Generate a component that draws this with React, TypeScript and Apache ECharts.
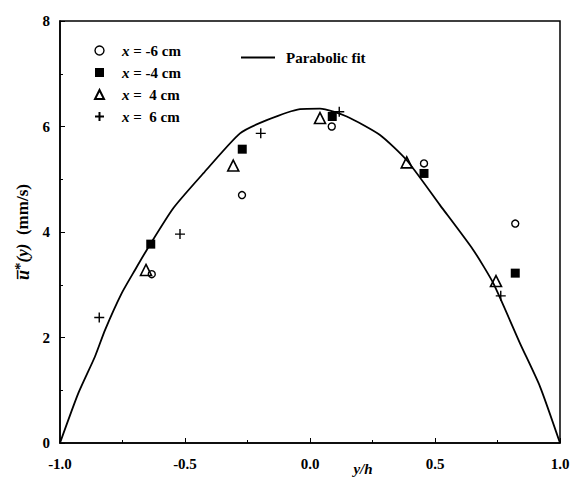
import React, { useEffect, useRef } from "react";
import * as echarts from "echarts";

const fitCurve: [number, number][] = [
  [-1, 0], [-0.927, 0.94], [-0.86, 1.64], [-0.82, 2.14], [-0.753, 2.84],
  [-0.7, 3.28], [-0.653, 3.66], [-0.547, 4.45], [-0.427, 5.11], [-0.28, 5.87],
  [-0.173, 6.12], [-0.04, 6.33], [0.04, 6.34], [0.147, 6.19], [0.28, 5.84],
  [0.387, 5.36], [0.52, 4.51], [0.653, 3.66], [0.733, 3.03], [0.84, 1.89],
  [0.92, 1.07], [1, 0],
];
const xm6: [number, number][] = [[-0.633, 3.2], [-0.272, 4.7], [0.087, 6.0], [0.456, 5.3], [0.821, 4.16]];
const xm4: [number, number][] = [[-0.637, 3.77], [-0.271, 5.57], [0.089, 6.19], [0.456, 5.11], [0.821, 3.22]];
const xp4: [number, number][] = [[-0.656, 3.28], [-0.307, 5.26], [0.04, 6.16], [0.387, 5.32], [0.744, 3.07]];
const xp6: [number, number][] = [[-0.843, 2.38], [-0.52, 3.96], [-0.197, 5.87], [0.117, 6.28], [0.763, 2.79]];
const seriesNames = ["x = -6 cm", "x = -4 cm", "x = 4 cm", "x = 6 cm"];
const fitName = "Parabolic fit";

const FONT = "'Liberation Serif', 'Times New Roman', serif";

export default function App() {
  const ref = useRef<HTMLDivElement>(null);
  useEffect(() => {
    if (!ref.current) return;
    const chart = echarts.init(ref.current, undefined, { renderer: "svg" });
    const plusPath = "path://M5,0L5,10M0,5L10,5";
    chart.setOption({
      animation: false,
      backgroundColor: "#fff",
      grid: {
        left: 60, top: 21, width: 500, height: 422, show: true,
        borderColor: "#000", borderWidth: 1.5, outerBoundsMode: "none", containLabel: false,
      },
      legend: [
        {
          data: [
            { name: seriesNames[0], itemStyle: { borderWidth: 1.4 } },
            { name: seriesNames[1] },
            { name: seriesNames[2] },
            { name: seriesNames[3] },
          ],
          orient: "vertical",
          left: 89,
          top: 38,
          itemGap: 7,
          itemWidth: 9,
          itemHeight: 9,
          formatter: (n: string) => {
            const val = n.split(" = ")[1];
            return "{i|x} {b|= " + (val.startsWith("-") ? "" : " ") + val + "}";
          },
          textStyle: {
            fontFamily: FONT,
            fontSize: 15,
            fontWeight: "bold",
            color: "#000",
            padding: [0, 0, 0, 13],
            rich: {
              i: { fontFamily: FONT, fontSize: 15, fontWeight: "bold", fontStyle: "italic", color: "#000" },
              b: { fontFamily: FONT, fontSize: 15, fontWeight: "bold", color: "#000" },
            },
          },
        },
        {
          data: [{ name: fitName, icon: "rect" }],
          left: 236,
          top: 45,
          itemWidth: 34,
          itemHeight: 2,
          textStyle: { fontFamily: FONT, fontSize: 15, fontWeight: "bold", color: "#000", padding: [0, 0, 0, 6] },
        },
      ],
      xAxis: {
        type: "value",
        min: -1,
        max: 1,
        interval: 0.5,
        name: "y/h",
        nameLocation: "middle",
        nameGap: 18,
        nameMoveOverlap: false,
        nameTextStyle: { fontFamily: FONT, fontSize: 15, fontWeight: "bold", fontStyle: "italic", color: "#000", padding: [0, 0, 0, 106] },
        axisLine: { onZero: false, lineStyle: { color: "#000", width: 1.5 } },
        axisTick: { inside: true, length: 5, lineStyle: { color: "#000" } },
        minorTick: { show: true, splitNumber: 2, length: 3, lineStyle: { color: "#000" } },
        splitLine: { show: false },
        axisLabel: {
          formatter: (v: number) => v.toFixed(1),
          fontFamily: FONT, fontSize: 15, fontWeight: "bold", color: "#000", margin: 13,
        },
      },
      yAxis: {
        type: "value",
        min: 0,
        max: 8,
        interval: 2,
        name: "{u|u\u0305}{s|*}{i|(y)}{n|  (mm/s)}",
        nameLocation: "middle",
        nameGap: 27,
        nameMoveOverlap: false,
        nameRotate: 90,
        nameTextStyle: {
          fontFamily: FONT, fontSize: 17, fontWeight: "bold", color: "#000",
          rich: {
            u: { fontFamily: FONT, fontSize: 18, fontWeight: "bold", fontStyle: "italic", color: "#000" },
            s: { fontFamily: FONT, fontSize: 15, fontWeight: "bold", color: "#000", padding: [0, 0, 6, 0] },
            i: { fontFamily: FONT, fontSize: 17, fontWeight: "bold", fontStyle: "italic", color: "#000" },
            n: { fontFamily: FONT, fontSize: 17, fontWeight: "bold", color: "#000" },
          },
        },
        axisLine: { onZero: false, lineStyle: { color: "#000", width: 1.5 } },
        axisTick: { inside: true, length: 5, lineStyle: { color: "#000" } },
        minorTick: { show: true, splitNumber: 2, length: 3, lineStyle: { color: "#000" } },
        splitLine: { show: false },
        axisLabel: { fontFamily: FONT, fontSize: 15, fontWeight: "bold", color: "#000", margin: 10 },
      },
      series: [
        {
          name: seriesNames[0], type: "scatter", data: xm6, symbol: "circle", symbolSize: 7,
          itemStyle: { color: "#fff", borderColor: "#000", borderWidth: 1.4, opacity: 1 },
        },
        {
          name: seriesNames[1], type: "scatter", data: xm4, symbol: "rect", symbolSize: 9,
          itemStyle: { color: "#000", opacity: 1 },
        },
        {
          name: seriesNames[2], type: "scatter", data: xp4, symbol: "triangle", symbolSize: 11,
          itemStyle: { color: "rgba(255,255,255,0)", borderColor: "#000", borderWidth: 1.6, opacity: 1 },
        },
        {
          name: seriesNames[3], type: "scatter", data: xp6, symbol: plusPath, symbolSize: 10,
          itemStyle: { color: "rgba(255,255,255,0)", borderColor: "#000", borderWidth: 1.4, opacity: 1 },
        },
        {
          name: fitName, type: "line", data: fitCurve, symbol: "none", smooth: 0.2,
          lineStyle: { color: "#000", width: 1.8 }, itemStyle: { color: "#000" },
        },
      ],
    });
    return () => chart.dispose();
  }, []);
  return <div ref={ref} style={{ position: "fixed", left: 0, top: 0, width: 575, height: 477 }} />;
}
